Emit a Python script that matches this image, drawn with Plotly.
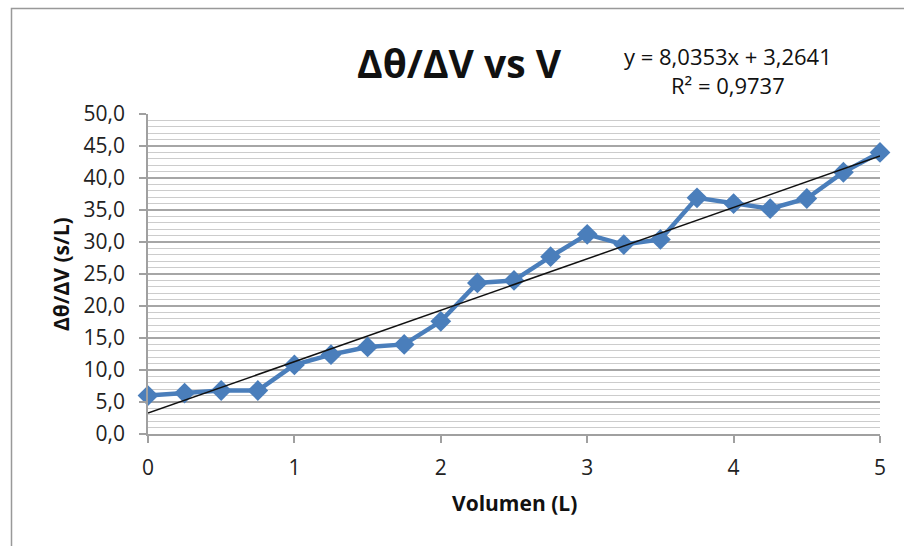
import plotly.graph_objects as go

volumen = [0, 0.25, 0.5, 0.75, 1, 1.25, 1.5, 1.75, 2, 2.25, 2.5,
           2.75, 3, 3.25, 3.5, 3.75, 4, 4.25, 4.5, 4.75, 5]
dtheta_dv = [6.0, 6.4, 6.8, 6.8, 10.8, 12.4, 13.6, 14.0, 17.6, 23.6, 24.0,
             27.7, 31.2, 29.6, 30.4, 36.9, 36.0, 35.2, 36.8, 40.9, 44.0]
trend_slope = 8.0353
trend_intercept = 3.2641
trend_x = [0, 5]
trend_y = [trend_slope * x + trend_intercept for x in trend_x]

title_text = "Δθ/ΔV vs V"
eq_text = "y = 8,0353x + 3,2641<br>R² = 0,9737"
x_title = "Volumen (L)"
y_title = "Δθ/ΔV (s/L)"

L, R, T, B = 148, 24, 114, 112
W, H = 904, 546
pw, ph = W - L - R, H - T - B

def px_x(px):
    return (px - L) / pw

def px_y(py):
    return (H - B - py) / ph

FONT = "Open Sans, DejaVu Sans, sans-serif"
axis_font = dict(family=FONT, size=21, color="#222222")

fig = go.Figure()
fig.add_trace(go.Scatter(
    x=volumen, y=dtheta_dv, mode="lines+markers",
    line=dict(color="#4a7ebb", width=4.5),
    marker=dict(symbol="diamond", size=16, color="#4a7ebb"),
    showlegend=False, cliponaxis=False,
))
fig.add_trace(go.Scatter(
    x=trend_x, y=trend_y, mode="lines",
    line=dict(color="#111111", width=1.5),
    showlegend=False,
))

fig.update_layout(
    width=W, height=H,
    margin=dict(l=L, r=R, t=T, b=B),
    paper_bgcolor="white", plot_bgcolor="white",
    separators=",.",
    font=axis_font,
    xaxis=dict(
        range=[0, 5], tickmode="linear", tick0=0, dtick=1,
        showgrid=False, zeroline=False,
        showline=True, linecolor="#a0a0a0", linewidth=1.5,
        ticks="outside", ticklen=7, tickcolor="#a0a0a0", tickwidth=1.5,
        tickfont=axis_font, ticklabelstandoff=7,
    ),
    yaxis=dict(
        range=[0, 50], tickmode="linear", tick0=0, dtick=5,
        tickformat=".1f",
        showgrid=True, gridcolor="#a6a6a6", gridwidth=1.5,
        zeroline=False,
        showline=True, linecolor="#a0a0a0", linewidth=1.5,
        ticks="outside", ticklen=7, tickcolor="#a0a0a0", tickwidth=1.5,
        tickfont=axis_font, ticklabelstandoff=10,
        minor=dict(dtick=1, showgrid=True, gridcolor="#cccccc", gridwidth=1.2),
    ),
)

# chart title
fig.add_annotation(
    x=px_x(459), y=px_y(63), xref="paper", yref="paper",
    text="<b>" + title_text + "</b>", showarrow=False,
    xanchor="center", yanchor="middle",
    font=dict(family=FONT, size=39, color="#111111"),
)
# trendline equation
fig.add_annotation(
    x=px_x(728), y=px_y(70), xref="paper", yref="paper",
    text=eq_text, showarrow=False, align="center",
    xanchor="center", yanchor="middle",
    font=dict(family=FONT, size=22, color="#111111"),
)
# axis titles
fig.add_annotation(
    x=px_x(514), y=px_y(503), xref="paper", yref="paper",
    text="<b>" + x_title + "</b>", showarrow=False,
    xanchor="center", yanchor="middle",
    font=dict(family=FONT, size=21, color="#111111"),
)
fig.add_annotation(
    x=px_x(61), y=px_y(274), xref="paper", yref="paper",
    text="<b>" + y_title + "</b>", showarrow=False, textangle=-90,
    xanchor="center", yanchor="middle",
    font=dict(family=FONT, size=21, color="#111111"),
)

# outer chart frame (left and top edges visible)
fig.add_shape(type="rect", xref="paper", yref="paper",
              x0=px_x(11.5), x1=px_x(920), y0=px_y(570), y1=px_y(8.5),
              line=dict(color="#999999", width=1.5), layer="below")

fig.write_html("out.html")
